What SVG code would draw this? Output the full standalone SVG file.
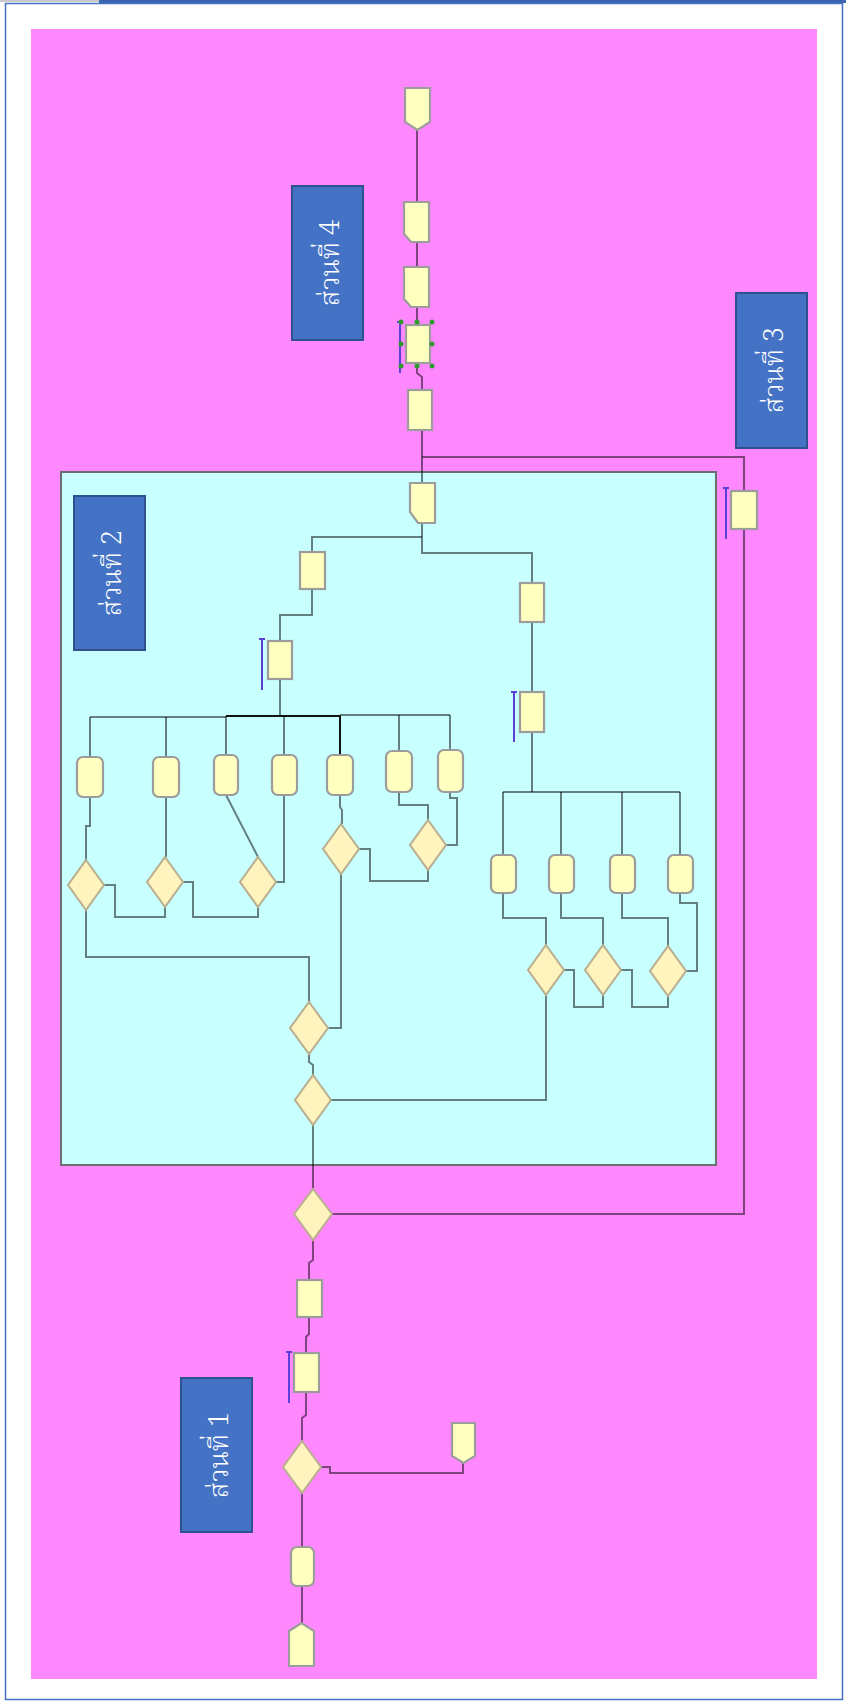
<svg xmlns="http://www.w3.org/2000/svg" width="846" height="1703" viewBox="0 0 846 1703">
<defs>
<style>
.n{fill:#FFFFC0;stroke:#9c9c9c;stroke-width:2.2}
.d{fill:#FFF3BE;stroke:#b9ae8e;stroke-width:2}
.c{fill:none;stroke:#000;stroke-opacity:0.5;stroke-width:2}
.bar{stroke:#5b3fd9;stroke-width:2;fill:none}
.lbl{fill:#4472C4;stroke:#2F528F;stroke-width:2}
.lt{fill:#fff;font-family:"Noto Serif Thai","Noto Sans Thai Looped","Noto Sans Thai","Loma","Tahoma","DejaVu Sans",sans-serif;font-size:27px;font-weight:300;text-anchor:middle;dominant-baseline:central}
.h{fill:#2e9a2e}
</style>
</defs>
<rect x="0" y="0" width="846" height="1703" fill="#fff"/>
<rect x="0" y="0" width="99" height="2" fill="#c8c8c8"/>
<rect x="99" y="0" width="747" height="3" fill="#3d64b0"/>
<rect x="5.5" y="3.5" width="837" height="1696" fill="none" stroke="#4472C4" stroke-width="1.5"/>
<rect x="31" y="29" width="786" height="1650" fill="#FF88FF"/>
<rect id="section2-box" x="61" y="472" width="655" height="693" fill="#C8FFFF" stroke="#6a7070" stroke-width="2"/>

<g id="connectors">
<path class="c" d="M417,130 V202"/>
<path class="c" d="M417,242 V267"/>
<path class="c" d="M417,307 V325"/>
<path class="c" d="M417,363 V373 L422,377 V390"/>
<path class="c" d="M422,430 V483"/>
<path class="c" d="M422,457 H744 V1214 H332"/>
<path class="c" d="M422,523 V553 H532 V583"/>
<path class="c" d="M422,537 H312 V552"/>
<path class="c" d="M312,589 V615 H280 V641"/>
<path class="c" d="M280,679 V716"/>
<path class="c" d="M90,717 H226"/>
<path d="M226,716 H340" fill="none" stroke="#111" stroke-width="2"/>
<path class="c" d="M340,715 H450"/>
<path class="c" d="M90,717 V757"/>
<path class="c" d="M166,717 V757"/>
<path class="c" d="M226,716 V755"/>
<path class="c" d="M284,716 V755"/>
<path d="M340,715 V755" fill="none" stroke="#111" stroke-width="2"/>
<path class="c" d="M399,715 V751"/>
<path class="c" d="M450,715 V750"/>
<path class="c" d="M90,797 V826 H86 V860"/>
<path class="c" d="M166,797 V857"/>
<path class="c" d="M226,795 L258,857"/>
<path class="c" d="M284,795 V882 H276"/>
<path class="c" d="M104,885 H115 V917 H165 V907"/>
<path class="c" d="M183,882 H193 V917 H258 V907"/>
<path class="c" d="M86,910 V957 H309 V1002"/>
<path class="c" d="M340,795 V807 L342,810 V824"/>
<path class="c" d="M341,874 V1028 H328"/>
<path class="c" d="M399,792 V805 H428 V820"/>
<path class="c" d="M450,792 V798 H457 V845 H446"/>
<path class="c" d="M359,849 H370 V881 H428 V870"/>
<path class="c" d="M309,1054 V1062 L313,1065 V1075"/>
<path class="c" d="M331,1100 H546 V995"/>
<path class="c" d="M313,1125 V1189"/>
<path class="c" d="M532,622 V692"/>
<path class="c" d="M532,732 V792"/>
<path class="c" d="M503,792 H680"/>
<path class="c" d="M503,792 V855"/>
<path class="c" d="M561,792 V855"/>
<path class="c" d="M622,792 V855"/>
<path class="c" d="M680,792 V855"/>
<path class="c" d="M503,893 V918 H546 V945"/>
<path class="c" d="M561,893 V918 H603 V945"/>
<path class="c" d="M622,893 V918 H668 V946"/>
<path class="c" d="M680,893 V903 H697 V971 H686"/>
<path class="c" d="M564,970 H574 V1007 H603 V995"/>
<path class="c" d="M621,970 H632 V1007 H668 V996"/>
<path class="c" d="M313,1240 V1260 L309,1263 V1280"/>
<path class="c" d="M309,1317 V1334 L306,1337 V1353"/>
<path class="c" d="M306,1392 V1415 L302,1418 V1441"/>
<path class="c" d="M321,1467 H330 V1473 H463 V1463"/>
<path class="c" d="M302,1493 V1547"/>
<path class="c" d="M302,1586 V1623"/>
</g>

<g id="label-4"><rect class="lbl" x="292" y="186" width="71" height="154"/><text class="lt" transform="translate(331,263) rotate(-90)">ส่วนที่ 4</text></g>
<g id="label-3"><rect class="lbl" x="736" y="293" width="71" height="155"/><text class="lt" transform="translate(775,370) rotate(-90)">ส่วนที่ 3</text></g>
<g id="label-2"><rect class="lbl" x="74" y="496" width="71" height="154"/><text class="lt" transform="translate(113,573) rotate(-90)">ส่วนที่ 2</text></g>
<g id="label-1"><rect class="lbl" x="181" y="1378" width="71" height="154"/><text class="lt" transform="translate(220,1455) rotate(-90)">ส่วนที่ 1</text></g>

<g id="n-top-offpage"><polygon class="n" points="405,88 430,88 430,122 417.5,130 405,122"/></g>
<g id="n-top-card1"><polygon class="n" points="404,202 429,202 429,242 411,242 404,234"/></g>
<g id="n-top-card2"><polygon class="n" points="404,267 429,267 429,307 411,307 404,299"/></g>
<g id="n-top-selected"><rect class="n" x="406" y="325" width="24" height="38"/>
<path class="bar" d="M400,322 V373 M397,322 H403"/>
<circle class="h" cx="401" cy="322" r="2.5"/><circle class="h" cx="417" cy="322" r="2.5"/><circle class="h" cx="432" cy="322" r="2.5"/>
<circle class="h" cx="401" cy="344" r="2.5"/><circle class="h" cx="432" cy="344" r="2.5"/>
<circle class="h" cx="401" cy="366" r="2.5"/><circle class="h" cx="417" cy="366" r="2.5"/><circle class="h" cx="432" cy="366" r="2.5"/></g>
<g id="n-top-rect"><rect class="n" x="408" y="390" width="24" height="40"/></g>
<g id="n-s3"><rect class="n" x="731" y="491" width="26" height="38"/><path class="bar" d="M726,488 V539 M723,488 H729"/></g>

<g id="n-c-card"><polygon class="n" points="410,483 435,483 435,523 418,523 410,512"/></g>
<g id="n-l1"><rect class="n" x="300" y="552" width="25" height="37"/></g>
<g id="n-l2"><rect class="n" x="268" y="641" width="24" height="38"/><path class="bar" d="M262,639 V690 M259,639 H265"/></g>
<g id="n-r1"><rect class="n" x="520" y="583" width="24" height="39"/></g>
<g id="n-r2"><rect class="n" x="520" y="692" width="24" height="40"/><path class="bar" d="M514,692 V742 M511,692 H517"/></g>

<g id="n-b1"><rect class="n" x="77" y="757" width="26" height="40" rx="6"/></g>
<g id="n-b2"><rect class="n" x="153" y="757" width="26" height="40" rx="6"/></g>
<g id="n-b3"><rect class="n" x="214" y="755" width="24" height="40" rx="6"/></g>
<g id="n-b4"><rect class="n" x="272" y="755" width="25" height="40" rx="6"/></g>
<g id="n-b5"><rect class="n" x="327" y="755" width="26" height="40" rx="6"/></g>
<g id="n-b6"><rect class="n" x="386" y="751" width="26" height="41" rx="6"/></g>
<g id="n-b7"><rect class="n" x="438" y="750" width="25" height="42" rx="6"/></g>

<g id="n-rb1"><rect class="n" x="491" y="855" width="25" height="38" rx="6"/></g>
<g id="n-rb2"><rect class="n" x="549" y="855" width="25" height="38" rx="6"/></g>
<g id="n-rb3"><rect class="n" x="610" y="855" width="25" height="38" rx="6"/></g>
<g id="n-rb4"><rect class="n" x="668" y="855" width="25" height="38" rx="6"/></g>

<g id="d1"><polygon class="d" points="86,860 104,885 86,910 68,885"/></g>
<g id="d2"><polygon class="d" points="165,857 183,882 165,907 147,882"/></g>
<g id="d3"><polygon class="d" points="258,857 276,882 258,907 240,882"/></g>
<g id="d4"><polygon class="d" points="341,824 359,849 341,874 323,849"/></g>
<g id="d5"><polygon class="d" points="428,820 446,845 428,870 410,845"/></g>
<g id="d6"><polygon class="d" points="309,1002 328,1028 309,1054 290,1028"/></g>
<g id="d7"><polygon class="d" points="313,1075 331,1100 313,1125 295,1100"/></g>
<g id="d8"><polygon class="d" points="546,945 564,970 546,995 528,970"/></g>
<g id="d9"><polygon class="d" points="603,945 621,970 603,995 585,970"/></g>
<g id="d10"><polygon class="d" points="668,946 686,971 668,996 650,971"/></g>
<g id="d11"><polygon class="d" points="313,1189 332,1214 313,1240 294,1214"/></g>
<g id="d12"><polygon class="d" points="302,1441 321,1467 302,1493 283,1467"/></g>

<g id="n-p1"><rect class="n" x="297" y="1280" width="25" height="37"/></g>
<g id="n-p2"><rect class="n" x="294" y="1353" width="25" height="39"/><path class="bar" d="M289,1352 V1403 M286,1352 H292"/></g>
<g id="n-p-offpage"><polygon class="n" points="452,1423 475,1423 475,1456 463.5,1463 452,1456"/></g>
<g id="n-p3"><rect class="n" x="291" y="1547" width="23" height="39" rx="6"/></g>
<g id="n-p-end"><polygon class="n" points="289,1631 301.5,1623 314,1631 314,1666 289,1666"/></g>
</svg>
